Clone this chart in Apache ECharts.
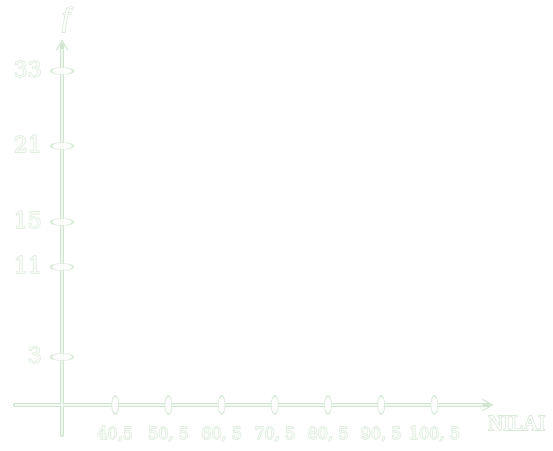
<!DOCTYPE html>
<html>
<head>
<meta charset="utf-8">
<script src="https://cdn.jsdelivr.net/npm/echarts@6/dist/echarts.min.js"></script>
<style>html,body{margin:0;padding:0;background:#fff}#c{width:553px;height:451px}</style>
</head>
<body>
<div id="c"></div>
<script>
// X tick labels (class boundaries), placed at tick index 1..7
const xTickLabels = ['40,5', '50, 5', '60, 5', '70, 5', '80, 5', '90, 5', '100, 5'];
const xTickIndex = [1, 2, 3, 4, 5, 6, 7];
// Y tick labels (frequencies) and their positions along the hand-drawn axis
const yTickLabels = ['3', '11', '15', '21', '33'];
const yTickPos = [48, 138, 183, 259, 334];
const xAxisTitle = 'NILAI';
const yAxisTitle = 'f';

const pale = '#cfe5cf';
const X_MIN = -0.8835, X_MAX = 8.008, Y_MIN = -30, Y_MAX = 360;
const chevron = 'path://M0,12 L7,0 L14,12 L12.6,12 L7,2.6 L1.4,12 Z';
const hollow = { color: '#fff', textBorderColor: pale, textBorderWidth: 1.3, fontFamily: 'DejaVu Serif', fontWeight: 'normal' };

const chart = echarts.init(document.getElementById('c'), null, { renderer: 'canvas' });
chart.setOption({
  animation: false,
  backgroundColor: '#fff',
  grid: { left: 15, right: 65, top: 45, bottom: 16, containLabel: false },
  xAxis: {
    type: 'value', min: X_MIN, max: X_MAX,
    splitLine: { show: false }, axisTick: { show: false }, axisLabel: { show: false },
    axisLine: { onZero: true, lineStyle: { color: pale, width: 4 }, symbol: ['none', chevron], symbolSize: [13, 14], symbolOffset: [0, 0] },
    name: xAxisTitle, nameLocation: 'end', nameGap: 0,
    nameTextStyle: Object.assign({}, hollow, { fontSize: 21, fontFamily: 'Liberation Serif', align: 'left', verticalAlign: 'top', padding: [9, 0, 0, 0] })
  },
  yAxis: {
    type: 'value', min: Y_MIN, max: Y_MAX,
    splitLine: { show: false }, axisTick: { show: false }, axisLabel: { show: false },
    axisLine: { onZero: true, lineStyle: { color: pale, width: 4 }, symbol: ['none', chevron], symbolSize: [13, 14] },
    name: yAxisTitle, nameLocation: 'end', nameGap: 12,
    nameTextStyle: Object.assign({}, hollow, { fontSize: 28, fontFamily: 'Liberation Serif', fontStyle: 'italic', align: 'left', padding: [0, 0, 0, 0] })
  },
  series: [
    { type: 'line', silent: true, symbol: 'none', z: 3,
      lineStyle: { color: '#fff', width: 1.4 }, data: [[X_MIN, 0], [X_MAX - 0.1, 0]] },
    { type: 'line', silent: true, symbol: 'none', z: 3,
      lineStyle: { color: '#fff', width: 1.4 }, data: [[0, Y_MIN], [0, Y_MAX - 4]] },
    { type: 'scatter', silent: true, z: 5, symbol: 'circle', symbolSize: [7, 18],
      itemStyle: { color: '#fff', borderColor: pale, borderWidth: 1.3 },
      label: Object.assign({ show: true, position: 'bottom', distance: 12, formatter: '{b}', fontSize: 16 }, hollow),
      data: xTickIndex.map((v, i) => ({ name: xTickLabels[i], value: [v, 0] })) },
    { type: 'scatter', silent: true, z: 5, symbol: 'circle', symbolSize: [22, 7],
      itemStyle: { color: '#fff', borderColor: pale, borderWidth: 1.3 },
      label: Object.assign({ show: true, position: 'left', distance: 8, formatter: '{b}', fontSize: 22 }, hollow),
      data: yTickPos.map((v, i) => ({ name: yTickLabels[i], value: [0, v] })) }
  ]
});
</script>
</body>
</html>
